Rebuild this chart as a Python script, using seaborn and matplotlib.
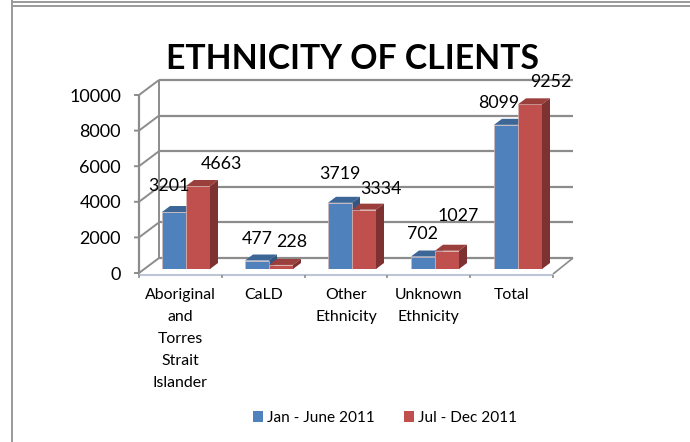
import matplotlib
matplotlib.use("Agg")
import matplotlib.pyplot as plt
from matplotlib.patches import Polygon, Rectangle
from matplotlib.lines import Line2D
import pandas as pd
import seaborn as sns

categories = ["Aboriginal\nand\nTorres\nStrait\nIslander", "CaLD", "Other\nEthnicity",
              "Unknown\nEthnicity", "Total"]
jan_june = [3201, 477, 3719, 702, 8099]
jul_dec = [4663, 228, 3334, 1027, 9252]
series_names = ["Jan - June 2011", "Jul - Dec 2011"]
y_ticks = [0, 2000, 4000, 6000, 8000, 10000]

W, H = 690, 442
GRID = "#8c8c8c"
FRONT = {series_names[0]: "#4f81bd", series_names[1]: "#c0504d"}
TOP = {series_names[0]: "#3c6696", series_names[1]: "#9a3f3c"}
SIDE = {series_names[0]: "#335680", series_names[1]: "#7d3130"}
# hand-placed label offsets (px) from each bar's top centre
label_shift = {series_names[0]: [(-5, 26), (0, 22), (0, 29), (0, 23), (-7, 22)],
               series_names[1]: [(23, 22), (11, 23), (17, 21), (11, 35), (21, 22)]}

sns.set_theme(style="white")
plt.rcParams["font.family"] = ["Lato", "DejaVu Sans"]

fig = plt.figure(figsize=(W / 100, H / 100), dpi=100)


def px_axes(x0, y_top, x1, y_bottom, **kw):
    return fig.add_axes([x0 / W, 1 - y_bottom / H, (x1 - x0) / W, (y_bottom - y_top) / H], **kw)


# outer page rules
fig.add_artist(Line2D([11.5 / W, 11.5 / W], [0, 1], color="#9a9a9a", lw=1.4))
fig.add_artist(Line2D([11.5 / W, 1], [1 - 5.5 / H] * 2, color="#9a9a9a", lw=1.4))
fig.add_artist(Line2D([11.5 / W, 1], [1 - 1.5 / H] * 2, color="#9a9a9a", lw=1.4))

# front plane: carries the value axis, category ticks and the receding walls
front = px_axes(139, 95, 553, 273)
front.set_xlim(0, 5)
front.set_ylim(0, 10000)
front.patch.set_alpha(0)
for s in front.spines.values():
    s.set_visible(False)
dx, dy = 20 / 414 * 5, 15 / 178 * 10000

front.set_yticks(y_ticks)
front.tick_params(axis="y", length=0, pad=13, labelsize=13, labelcolor="black")
front.set_xticks([i + 0.5 for i in range(5)])
front.set_xticklabels(categories, fontsize=11.4, color="black", linespacing=1.71)
front.tick_params(axis="x", length=0, pad=11)

kw = dict(clip_on=False, solid_capstyle="butt", zorder=1)
front.plot([0, 0], [-100, 10000], color=GRID, lw=1.6, **kw)
for v in y_ticks:
    front.plot([-0.06, 0, dx], [v, v, v + dy], color=GRID, lw=1.4, **kw)
    front.plot([dx, 5 + dx], [v + dy] * 2, color=GRID, lw=1.6, **kw)
front.plot([dx, dx], [dy, 10000 + dy], color=GRID, lw=1.4, **kw)
# floor edge and its category ticks
front.plot([0, 5], [-110, -110], color="#bcc6d8", lw=1.5, **kw)
front.plot([5, 5 + dx], [-60, dy], color=GRID, lw=1.2, **kw)
for i in range(6):
    front.plot([i, i], [-110, -290], color=GRID, lw=1.2, **kw)

# bars share the category spacing, lifted to their own baseline on the floor
bars = px_axes(139, 91, 553, 269)
frame = pd.DataFrame({
    "category": categories * 2,
    "period": [series_names[0]] * 5 + [series_names[1]] * 5,
    "clients": jan_june + jul_dec,
})
sns.barplot(data=frame, x="category", y="clients", hue="period", hue_order=series_names,
            palette=FRONT, width=48 / 83, gap=0, dodge=True, saturation=1, legend=False,
            errorbar=None, ax=bars, edgecolor="#d9b8b6", linewidth=0.5, zorder=3)
bars.set_xlim(-47 / 83, -47 / 83 + 414 / 83)
bars.set_ylim(0, 10000)
bars.axis("off")

ddx, ddy = 8 / 83, 6 / 178 * 10000
values = {series_names[0]: jan_june, series_names[1]: jul_dec}
half = 24 / 83
for s_idx, name in enumerate(series_names):
    for i, v in enumerate(values[name]):
        x0 = i - half + s_idx * half
        x1 = x0 + half
        bars.add_patch(Polygon([(x0, v), (x1, v), (x1 + ddx, v + ddy), (x0 + ddx, v + ddy)],
                               closed=True, fc=TOP[name], ec="none", zorder=2 + s_idx, clip_on=False))
        bars.add_patch(Polygon([(x1, 0), (x1 + ddx, ddy), (x1 + ddx, v + ddy), (x1, v)],
                               closed=True, fc=SIDE[name], ec="none", zorder=2 + s_idx, clip_on=False))
        sx, sy = label_shift[name][i]
        bars.annotate(str(v), ((x0 + x1) / 2, v), xytext=(sx * 0.72, sy * 0.72),
                      textcoords="offset points", ha="center", va="center",
                      fontsize=12.8, color="black", zorder=6, annotation_clip=False)

fig.text(352 / W, 1 - 59 / H, "ETHNICITY OF CLIENTS", ha="center", va="center",
         fontsize=24.3, fontweight="bold", color="black")

# legend row
handles = [Rectangle((0, 0), 1, 1, fc=FRONT[n], ec="none") for n in series_names]
fig.legend(handles, series_names, loc="center", bbox_to_anchor=(385 / W, 1 - 418 / H), ncol=2,
           frameon=False, fontsize=11.1, handlelength=0.65, handleheight=0.65,
           handletextpad=0.25, columnspacing=1.9, labelcolor="black")

fig.savefig("out.png", dpi=100)
